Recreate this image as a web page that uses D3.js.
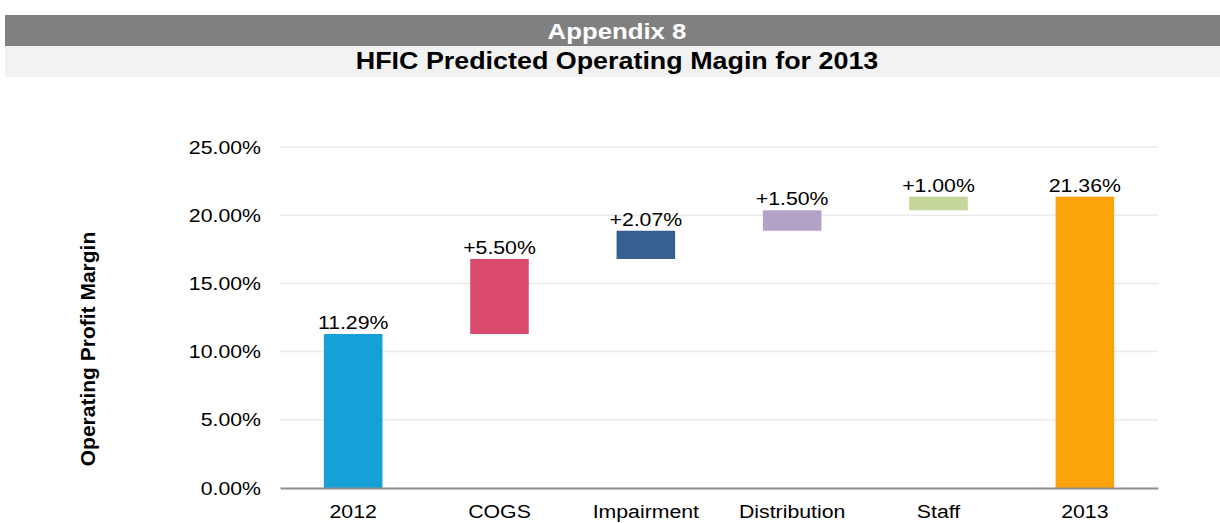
<!DOCTYPE html>
<html>
<head>
<meta charset="utf-8">
<script src="https://cdn.jsdelivr.net/npm/d3@7"></script>
<style>
  body { margin: 0; background: #ffffff; font-family: Arial, "Liberation Sans", sans-serif; }
</style>
</head>
<body>
<div id="container"></div>
<script>
/* DATA */
const categories = ["2012", "COGS", "Impairment", "Distribution", "Staff", "2013"];
const changes = [11.29, 5.50, 2.07, 1.50, 1.00, 21.36];
const isTotal = [true, false, false, false, false, true];
const labels = ["11.29%", "+5.50%", "+2.07%", "+1.50%", "+1.00%", "21.36%"];
const colors = ["#15a0d8", "#d94a6e", "#36608f", "#b3a2c8", "#c4d79b", "#fda30a"];
const yTicks = [0, 5, 10, 15, 20, 25];

/* CONSTANTS */
const W = 1220, H = 523;
const plot = { left: 280, right: 1158, top: 147, bottom: 488 };
const sx = 1.12; // text in the original is a little wide

// build waterfall rows
let running = 0;
const rows = categories.map((c, i) => {
  let start, end;
  if (isTotal[i]) { start = 0; end = changes[i]; running = changes[i]; }
  else { start = running; end = running + changes[i]; running = end; }
  return { cat: c, start, end, label: labels[i], color: colors[i] };
});

const svg = d3.select("#container")
  .append("svg")
  .attr("width", W)
  .attr("height", H);

/* HEADER */
svg.append("rect").attr("x", 5).attr("y", 15).attr("width", W - 5).attr("height", 31).attr("fill", "#808080");
svg.append("rect").attr("x", 5).attr("y", 46).attr("width", W - 5).attr("height", 31).attr("fill", "#f2f2f2");
svg.append("text")
  .attr("transform", `translate(617,39) scale(${sx},1)`)
  .attr("text-anchor", "middle")
  .style("font-size", "23px").style("font-weight", "bold").attr("fill", "#ffffff")
  .text("Appendix 8");
svg.append("text")
  .attr("transform", `translate(617,69) scale(${sx},1)`)
  .attr("text-anchor", "middle")
  .style("font-size", "24px").style("font-weight", "bold").attr("fill", "#000000")
  .text("HFIC Predicted Operating Magin for 2013");

/* SCALES */
const xScale = d3.scaleBand()
  .domain(categories)
  .range([plot.left, plot.right])
  .paddingInner(0.6)
  .paddingOuter(0.3);

const yScale = d3.scaleLinear()
  .domain([0, 25])
  .range([plot.bottom, plot.top]);

/* GRID */
svg.append("g")
  .selectAll("line")
  .data(yTicks.filter(d => d > 0))
  .join("line")
  .attr("x1", plot.left).attr("x2", plot.right)
  .attr("y1", d => yScale(d)).attr("y2", d => yScale(d))
  .attr("stroke", "#ebebeb").attr("stroke-width", 1.5);

/* Y AXIS */
const yAxis = svg.append("g")
  .attr("transform", `translate(${plot.left - 19},0)`)
  .call(d3.axisLeft(yScale).tickValues(yTicks).tickFormat(d => d.toFixed(2) + "%").tickSize(0).tickPadding(0));
yAxis.select(".domain").remove();
yAxis.selectAll("text")
  .attr("transform", `scale(${sx},1)`)
  .style("font-family", "Arial, 'Liberation Sans', sans-serif")
  .style("font-size", "19px").attr("fill", "#000");

svg.append("text")
  .attr("transform", `translate(95,349) rotate(-90)`)
  .attr("text-anchor", "middle")
  .style("font-size", "21px").style("font-weight", "bold")
  .text("Operating Profit Margin");

/* BARS */
svg.selectAll(".bar")
  .data(rows)
  .join("rect")
  .attr("class", "bar")
  .attr("x", d => xScale(d.cat))
  .attr("width", xScale.bandwidth())
  .attr("y", d => yScale(d.end))
  .attr("height", d => yScale(d.start) - yScale(d.end))
  .attr("fill", d => d.color);

svg.selectAll(".lbl")
  .data(rows)
  .join("text")
  .attr("class", "lbl")
  .attr("transform", d => `translate(${xScale(d.cat) + xScale.bandwidth() / 2},${yScale(d.end) - 5}) scale(${sx},1)`)
  .attr("text-anchor", "middle")
  .style("font-size", "19px")
  .text(d => d.label);

/* X AXIS */
const xAxis = svg.append("g")
  .attr("transform", `translate(0,${plot.bottom})`)
  .call(d3.axisBottom(xScale).tickSize(0).tickPadding(17));
xAxis.select(".domain").attr("stroke", "#8c8c8c").attr("stroke-width", 2);
xAxis.selectAll("text")
  .attr("transform", `scale(${sx},1)`)
  .style("font-family", "Arial, 'Liberation Sans', sans-serif")
  .style("font-size", "19px").attr("fill", "#000");
</script>
</body>
</html>
